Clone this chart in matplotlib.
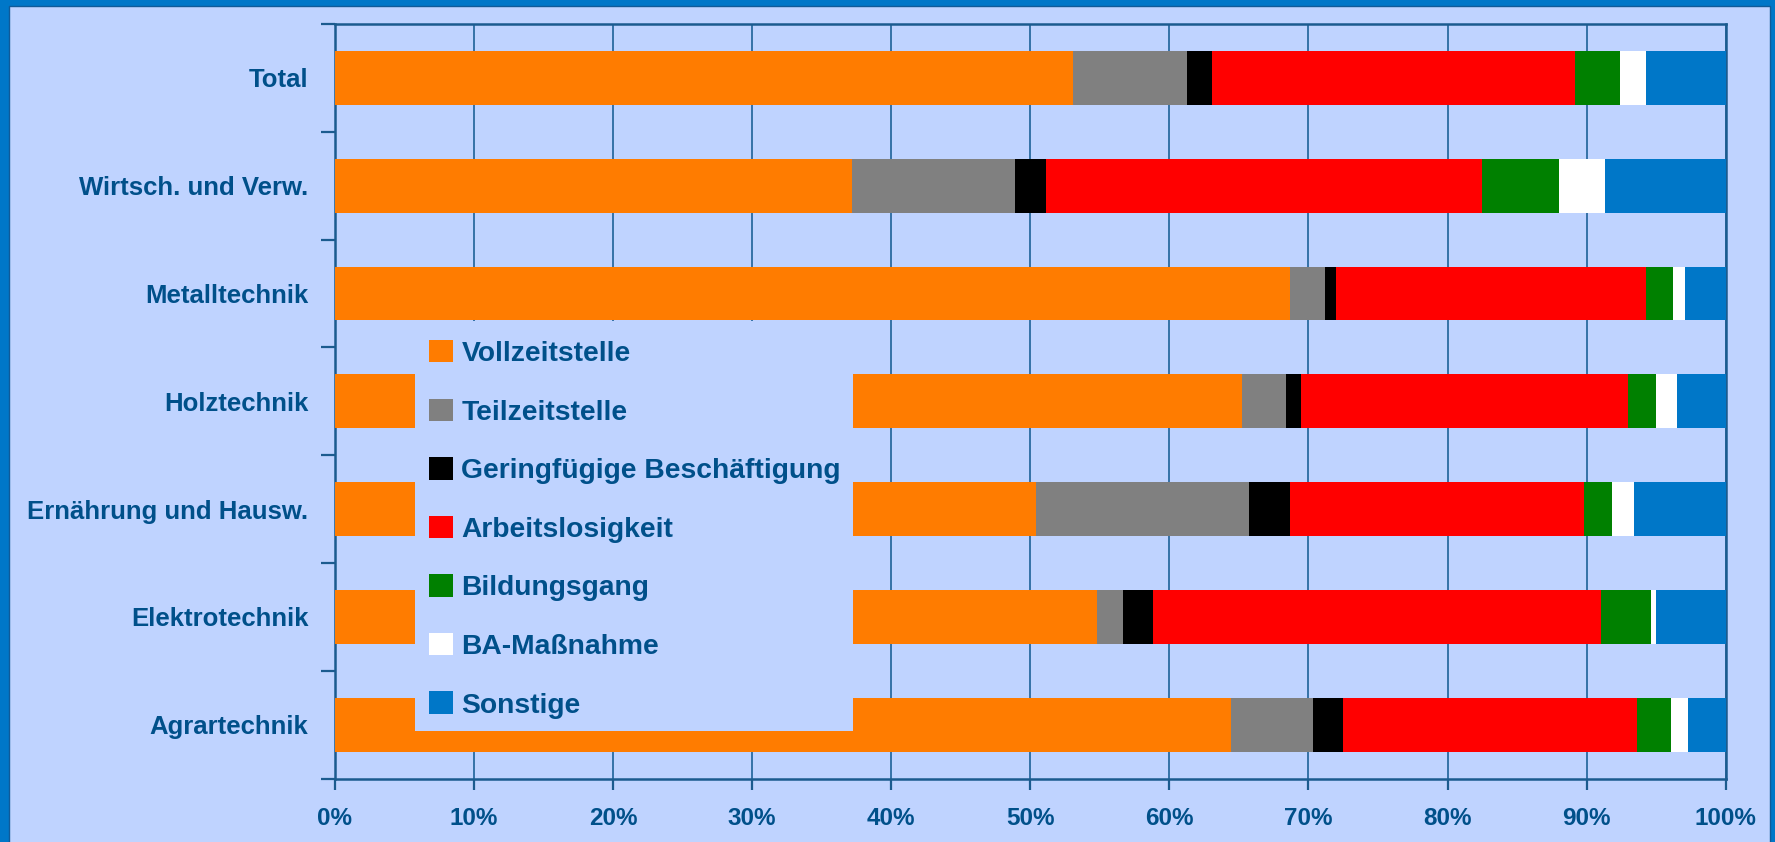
import matplotlib
matplotlib.use("Agg")
import matplotlib.pyplot as plt
from matplotlib.patches import Rectangle, Patch
import numpy as np

categories = ["Total", "Wirtsch. und Verw.", "Metalltechnik", "Holztechnik",
              "Ernährung und Hausw.", "Elektrotechnik", "Agrartechnik"]
series_names = ["Vollzeitstelle", "Teilzeitstelle", "Geringfügige Beschäftigung",
                "Arbeitslosigkeit", "Bildungsgang", "BA-Maßnahme", "Sonstige"]
vollzeit = [53.1, 37.2, 68.7, 65.2, 50.4, 54.8, 64.4]
teilzeit = [8.2, 11.7, 2.5, 3.2, 15.3, 1.9, 5.9]
geringfuegig = [1.8, 2.2, 0.8, 1.1, 3.0, 2.1, 2.2]
arbeitslos = [26.1, 31.4, 22.3, 23.5, 21.1, 32.2, 21.1]
bildung = [3.2, 5.5, 1.9, 2.0, 2.0, 3.6, 2.5]
ba_massnahme = [1.9, 3.3, 0.9, 1.5, 1.6, 0.4, 1.2]
sonstige = [5.7, 8.7, 2.9, 3.5, 6.6, 5.0, 2.7]
xtick_labels = ["0%", "10%", "20%", "30%", "40%", "50%", "60%", "70%", "80%", "90%", "100%"]

colors = ["#FF7C00", "#808080", "#000000", "#FF0000", "#008000", "#FFFFFF", "#0077C8"]
series = [vollzeit, teilzeit, geringfuegig, arbeitslos, bildung, ba_massnahme, sonstige]

TXT = "#00508A"
AXC = "#1B5B8F"
BG = "#BFD3FF"
FONT = ["Liberation Sans", "DejaVu Sans"]
plt.rcParams["font.family"] = FONT
plt.rcParams["font.weight"] = "bold"

W, H = 1775, 842
fig = plt.figure(figsize=(W / 100, H / 100), dpi=100)
fig.patch.set_facecolor("#0077C8")
fig.add_artist(Rectangle((9 / W, -0.01), (1770 - 9) / W, 1 - 6 / H + 0.01,
                         transform=fig.transFigure, facecolor=BG,
                         edgecolor="#105A98", linewidth=1.0, zorder=-10))

ax = fig.add_axes([334.7 / W, 1 - 778.7 / H, (1725.7 - 334.7) / W, (778.7 - 24) / H])
ax.set_facecolor(BG)

y = np.arange(len(categories))
totals = np.sum(np.array(series), axis=0)
left = np.zeros(len(categories))
for vals, c, name in zip(series, colors, series_names):
    frac = np.array(vals) / totals
    ax.barh(y, frac, left=left, height=0.5, color=c, label=name, zorder=3, linewidth=0)
    left += frac

ax.set_xlim(0, 1)
ax.set_ylim(len(categories) - 0.5, -0.5)
ax.set_xticks(np.linspace(0, 1, 11))
ax.set_xticklabels(xtick_labels)
ax.set_yticks(np.arange(-0.5, len(categories), 1.0))
ax.set_yticklabels([])
ax.set_yticks(y, minor=True)
ax.set_yticklabels(categories, minor=True)
ax.tick_params(axis="y", which="minor", length=0, pad=19, labelsize=18.5, labelcolor=TXT)
ax.tick_params(axis="y", which="major", length=10, width=1.6, color=AXC, direction="out")
ax.tick_params(axis="x", length=8, width=1.6, color=AXC, direction="out", pad=12.5,
               labelsize=17.5, labelcolor=TXT)
for lab in ax.get_xticklabels() + ax.get_yticklabels(minor=True):
    lab.set_fontweight("bold")
ax.grid(axis="x", color="#2A6AA0", linewidth=1.3, zorder=1)
ax.set_axisbelow(True)
for s in ax.spines.values():
    s.set_color(AXC)
    s.set_linewidth(1.8)

# legend box
fig.add_artist(Rectangle((415 / W, 1 - 731 / H), (853 - 415) / W, (731 - 321) / H,
                         transform=fig.transFigure, facecolor=BG, edgecolor="none", zorder=4))
handles = [Patch(facecolor=c, edgecolor="none") for c in colors]
leg = fig.legend(handles, series_names, loc="upper left",
                 bbox_to_anchor=(429 / W, 1 - 340 / H), frameon=False,
                 prop={"size": 20.3, "weight": "bold", "family": FONT},
                 handlelength=0.85, handleheight=0.85, handletextpad=0.3,
                 labelspacing=1.12, borderpad=0, borderaxespad=0)
leg.set_zorder(6)
for t in leg.get_texts():
    t.set_color(TXT)

fig.savefig("out.png", dpi=100, facecolor=fig.get_facecolor())
